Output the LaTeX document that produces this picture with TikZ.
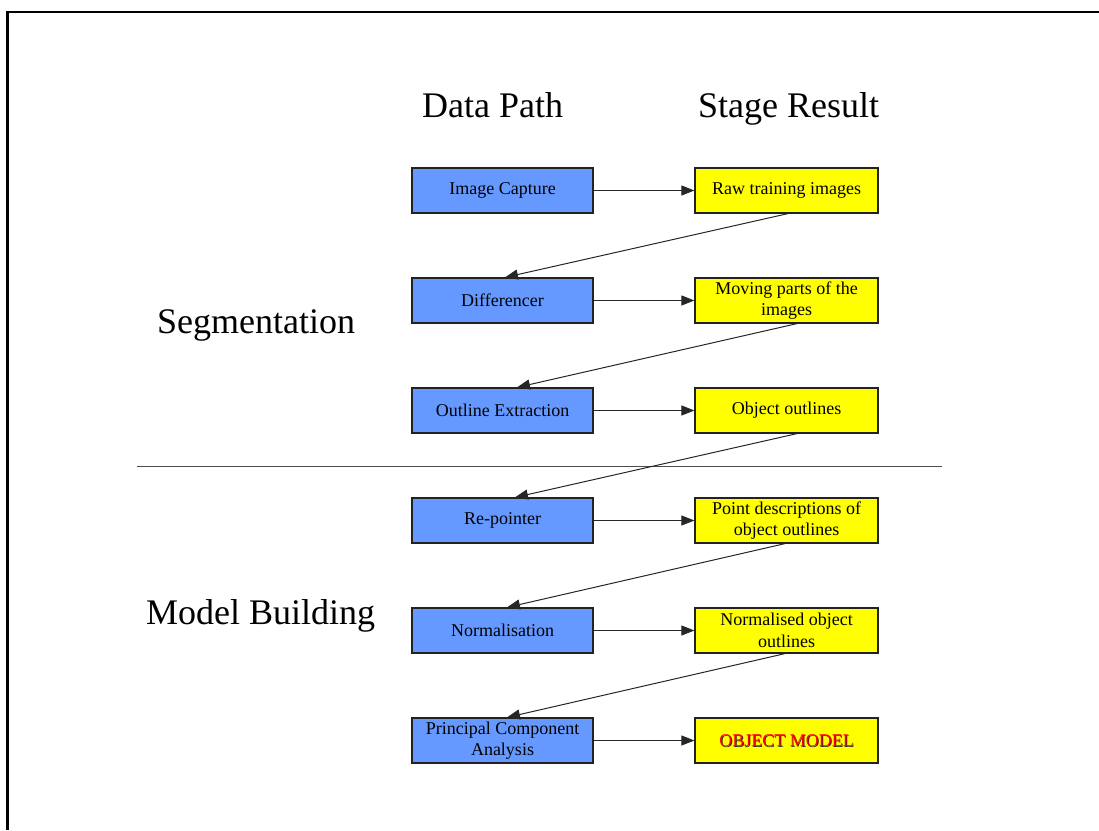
\documentclass[tikz,border=0pt]{standalone}
\usepackage{fontspec}
\setmainfont{Liberation Serif}
\usetikzlibrary{arrows.meta,calc}
\definecolor{boxblue}{HTML}{6699FF}
\definecolor{boxyellow}{HTML}{FFFF00}
\definecolor{edge}{HTML}{222222}
\tikzset{
  pathbox/.style={draw=edge, line width=1.2pt, fill=boxblue, minimum width=181pt, minimum height=45pt, inner sep=0pt, align=center, font=\fontsize{18}{21.5}\selectfont},
  resbox/.style={draw=edge, line width=1.2pt, fill=boxyellow, minimum width=183pt, minimum height=45pt, inner sep=0pt, align=center, font=\fontsize{18}{21.5}\selectfont},
  conn/.style={draw=black!85, line width=1pt, -{Triangle[length=13pt,width=10pt]}},
  heading/.style={font=\fontsize{36}{40}\selectfont, inner sep=0pt, anchor=base west}
}
\begin{document}
\begin{tikzpicture}[x=1pt,y=-1pt]
\useasboundingbox (0,0) rectangle (1099,830);
% frame
\draw[line width=2.5pt] (7.5,830) -- (7.5,12) -- (1099,12);
% headings
\node[heading] (hdp) at (422,117) {Data Path};
\node[heading] (hsr) at (698,117) {Stage Result};
\node[heading] (hseg) at (157,333) {Segmentation};
\node[heading] (hmb) at (146,624) {Model Building};
% divider
\draw[draw=black!70, line width=1pt] (137,466) -- (942,466);
% boxes
\node[pathbox] (b1) at (502.5,190.5) {Image Capture};
\node[pathbox] (b2) at (502.5,300.5) {Differencer};
\node[pathbox] (b3) at (502.5,410.5) {Outline Extraction};
\node[pathbox] (b4) at (502.5,520.5) {Re-pointer};
\node[pathbox] (b5) at (502.5,630.5) {Normalisation};
\node[pathbox] (b6) at (502.5,740.5) {Principal Component\\Analysis};
\node[resbox] (y1) at (786.5,190.5) {Raw training images};
\node[resbox] (y2) at (786.5,300.5) {Moving parts of the\\images};
\node[resbox] (y3) at (786.5,410.5) {Object outlines};
\node[resbox] (y4) at (786.5,520.5) {Point descriptions of\\object outlines};
\node[resbox] (y5) at (786.5,630.5) {Normalised object\\outlines};
\node[resbox] (y6) at (786.5,740.5) {};
\node[font=\fontsize{18}{21.5}\selectfont, text=black!85, inner sep=0pt] at ($(y6.center)+(0.9,0.9)$) {OBJECT MODEL};
\node[font=\fontsize{18}{21.5}\selectfont, text=red, inner sep=0pt] (om) at (y6.center) {OBJECT MODEL};
% horizontal connectors
\foreach \i in {1,...,6} {
  \draw[conn] (b\i.east) -- (y\i.west);
}
% diagonal connectors
\draw[conn] ($(y1.south)+(1.5,0)$) -- ($(b2.north)+(2.5,0)$);
\draw[conn] ($(y2.south)+(10.5,0)$) -- ($(b3.north)+(14.5,0)$);
\draw[conn] ($(y3.south)+(10.5,0)$) -- ($(b4.north)+(12.5,0)$);
\draw[conn] ($(y4.south)+(-1.5,0)$) -- ($(b5.north)+(4.5,0)$);
\draw[conn] ($(y5.south)+(-1.5,0)$) -- ($(b6.north)+(4.5,0)$);
\end{tikzpicture}
\end{document}
